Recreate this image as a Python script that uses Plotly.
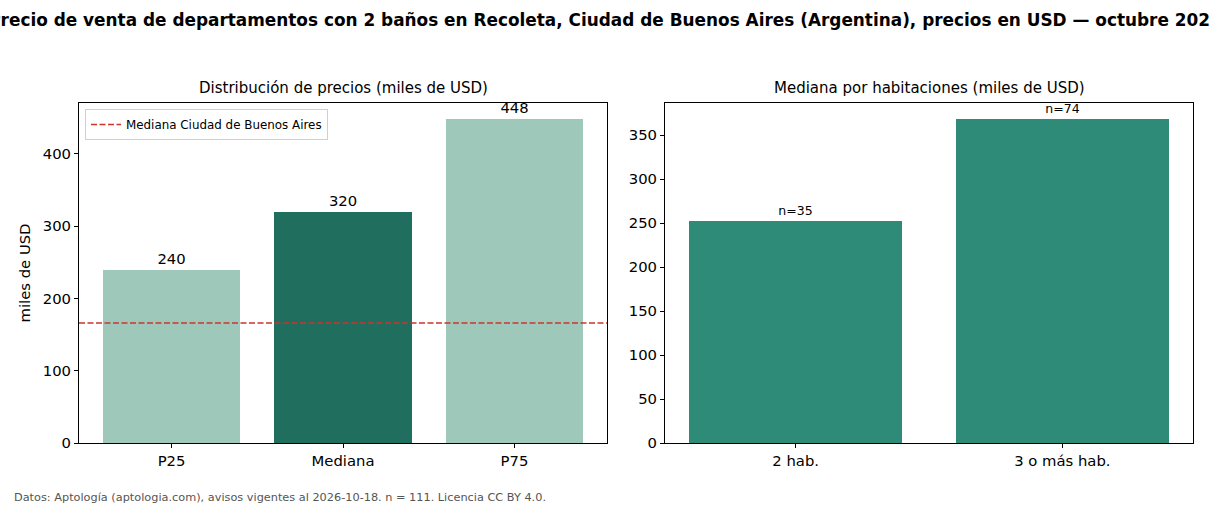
import plotly.graph_objects as go

# ---- data ----
dist_labels = ["P25", "Mediana", "P75"]
dist_values = [240, 320, 448]
city_median = 166
room_labels = ["2 hab.", "3 o más hab."]
room_values = [252, 368]
room_n = [35, 74]

title_text = ("Precio de venta de departamentos con 2 baños en Recoleta, Ciudad de Buenos Aires "
              "(Argentina), precios en USD — octubre 2026")
footer_text = "Datos: Aptología (aptologia.com), avisos vigentes al 2026-10-18. n = 111. Licencia CC BY 4.0."

W, H = 1210, 506
FONT = "DejaVu Sans"
light = "#9ec8ba"
dark = "#206e5d"
mid = "#2e8b77"
red = "#c9362c"

TICK = 14.8

fig = go.Figure()

x1_range = [-0.54, 2.54]
x2_range = [-0.49, 1.49]

fig.add_trace(go.Bar(
    x=list(range(len(dist_labels))), y=dist_values,
    marker=dict(color=[light, dark, light], line=dict(width=0)),
    width=0.8, text=[str(v) for v in dist_values], textposition="outside",
    textfont=dict(size=TICK, color="black", family=FONT), cliponaxis=False,
    showlegend=False, xaxis="x", yaxis="y", hoverinfo="skip"))

fig.add_trace(go.Scatter(
    x=x1_range, y=[city_median, city_median], mode="lines",
    line=dict(color=red, width=1.5, dash="6px,2.5px"),
    name="Mediana Ciudad de Buenos Aires", xaxis="x", yaxis="y", showlegend=True))

fig.add_trace(go.Bar(
    x=list(range(len(room_labels))), y=room_values,
    marker=dict(color=mid, line=dict(width=0)),
    width=0.8, text=[f"n={n}" for n in room_n], textposition="outside",
    textfont=dict(size=12.5, color="black", family=FONT), cliponaxis=False,
    showlegend=False, xaxis="x2", yaxis="y2", hoverinfo="skip"))

ytop = 1 - 103 / H
ybot = 1 - 443 / H

axis_common = dict(showline=True, linecolor="black", linewidth=1, mirror=True,
                   ticks="outside", ticklen=4, tickcolor="black", showgrid=False,
                   zeroline=False, automargin=False,
                   tickfont=dict(size=TICK, color="black", family=FONT))

fig.update_layout(
    width=W, height=H,
    margin=dict(l=0, r=0, t=0, b=0, autoexpand=False),
    paper_bgcolor="white", plot_bgcolor="white",
    font=dict(family=FONT, color="black"),
    bargap=0,
    title=dict(text=f"<b>{title_text}</b>", x=0.5, xanchor="center", xref="paper",
               y=1 - 20 / H, yref="container", yanchor="middle", automargin=False,
               font=dict(size=16.9, color="black", family=FONT)),
    xaxis=dict(domain=[79 / W, 607 / W], range=x1_range, tickmode="array",
               tickvals=list(range(len(dist_labels))), ticktext=dist_labels, anchor="y",
               **axis_common),
    yaxis=dict(domain=[ybot, ytop], range=[0, max(dist_values) * 1.05], tickmode="array",
               tickvals=[0, 100, 200, 300, 400], anchor="x",
               title=dict(text="miles de USD", font=dict(size=TICK, family=FONT), standoff=8),
               **axis_common),
    xaxis2=dict(domain=[665 / W, 1193 / W], range=x2_range, tickmode="array",
                tickvals=list(range(len(room_labels))), ticktext=room_labels, anchor="y2",
                **axis_common),
    yaxis2=dict(domain=[ybot, ytop], range=[0, max(room_values) * 1.05], tickmode="array",
                tickvals=[0, 50, 100, 150, 200, 250, 300, 350], anchor="x2",
                **axis_common),
    legend=dict(x=85 / W, y=1 - 109 / H, xanchor="left", yanchor="top",
                bgcolor="rgba(255,255,255,0.8)", bordercolor="#d0d0d0", borderwidth=1,
                font=dict(size=11.9, family=FONT, color="black"),
                itemwidth=30, tracegroupgap=0),
    annotations=[
        dict(text="Distribución de precios (miles de USD)", x=(79 + 607) / 2 / W,
             y=1 - 88 / H, xref="paper", yref="paper", showarrow=False,
             xanchor="center", yanchor="middle", font=dict(size=15, family=FONT)),
        dict(text="Mediana por habitaciones (miles de USD)", x=(665 + 1193) / 2 / W,
             y=1 - 88 / H, xref="paper", yref="paper", showarrow=False,
             xanchor="center", yanchor="middle", font=dict(size=15, family=FONT)),
        dict(text=footer_text, x=12 / W, y=1 - 497 / H, xref="paper", yref="paper",
             showarrow=False, xanchor="left", yanchor="middle",
             font=dict(size=11.3, family=FONT, color="#555555")),
    ],
)

fig.write_html("out.html")
